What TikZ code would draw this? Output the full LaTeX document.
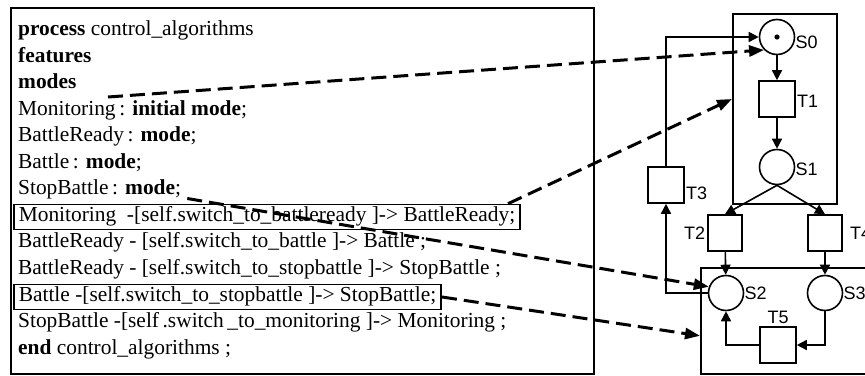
\documentclass[tikz,border=0pt]{standalone}
\usepackage{fontspec}
\setmainfont{Liberation Serif}
\newfontfamily\labfont{Liberation Sans}
\usetikzlibrary{arrows.meta}
\begin{document}
\begin{tikzpicture}[x=1pt,y=-1pt,
  code/.style={anchor=base west, inner xsep=0pt, inner ysep=0pt, text height=12pt, text depth=4pt, font=\fontsize{21.4}{25}\selectfont},
  codebox/.style={code, draw, line width=1.6pt, inner xsep=5pt, inner ysep=4.5pt},
  frame/.style={draw, line width=1.6pt, inner sep=0pt},
  place/.style={circle, draw, line width=1.6pt, minimum size=35pt, inner sep=0pt},
  trans/.style={rectangle, draw, line width=1.6pt, minimum width=36pt, minimum height=36pt, inner sep=0pt},
  lab/.style={font=\labfont\fontsize{18}{18}\selectfont, inner sep=0pt},
  arc/.style={line width=1.6pt, -{Triangle[length=10pt,width=10pt]}},
  link/.style={line width=3pt, dash pattern=on 15pt off 7pt, -{Triangle[length=15pt,width=11pt]}}]
\useasboundingbox[fill=white] (0,0) rectangle (865,375);

% ---- left listing ----
\node[frame, minimum width=583pt, minimum height=366pt, anchor=north west] (lst) at (10,7) {};
\node[code] (l1)  at (18,35.5)  {\textbf{process} control\_algorithms};
\node[code] (l2)  at (18,62)    {\textbf{features}};
\node[code] (l3)  at (18,88.5)  {\textbf{modes}};
\node[code] (l4)  at (18,115)   {Monitoring\,: \textbf{initial mode};};
\node[code] (l5)  at (18,141.5) {BattleReady\,: \textbf{mode};};
\node[code] (l6)  at (18,168)   {Battle\,: \textbf{mode};};
\node[code] (l7)  at (18,194.5) {StopBattle\,: \textbf{mode};};
\node[codebox] (l8)  at (13,221) {Monitoring~~-[self.switch\_to\_battleready ]-> BattleReady;};
\node[code] (l9)  at (18,247.5) {BattleReady - [self.switch\_to\_battle ]-> Battle ;};
\node[code] (l10) at (18,274)   {BattleReady - [self.switch\_to\_stopbattle ]-> StopBattle ;};
\node[codebox] (l11) at (13,301) {Battle -[self.switch\_to\_stopbattle ]-> StopBattle;};
\node[code] (l12) at (18,327.5) {StopBattle -[self\,.switch\,\_to\_monitoring ]-> Monitoring ;};
\node[code] (l13) at (18,354)   {\textbf{end} control\_algorithms ;};

% ---- Petri net ----
\node[frame, minimum width=104pt, minimum height=190pt, anchor=north west] (ub) at (732,13) {};
\node[frame, minimum width=200pt, minimum height=106pt, anchor=north west] (lb) at (700,267) {};

\node[place] (S0) at (777,37) {};
\fill (S0.center) circle (2.6pt);
\node[trans] (T1) at (777,99) {};
\node[place] (S1) at (777,167) {};
\node[trans] (T3) at (666,185) {};
\node[trans, minimum width=34pt] (T2) at (725,233) {};
\node[trans, minimum width=34pt] (T4) at (825,233) {};
\node[place] (S2) at (726,293) {};
\node[place] (S3) at (825,293) {};
\node[trans] (T5) at (778,345) {};

\node[lab, anchor=west, yshift=-5pt] at (S0.east) {S0};
\node[lab, anchor=west, yshift=-2.5pt, xshift=1pt] at (T1.east) {T1};
\node[lab, anchor=west, yshift=-2.5pt] at (S1.east) {S1};
\node[lab, anchor=west, yshift=-8pt, xshift=1pt] at (T3.east) {T3};
\node[lab, anchor=east, xshift=-2pt] at (T2.west) {T2};
\node[lab, anchor=west, xshift=7pt] at (T4.east) {T4};
\node[lab, anchor=west] at (S2.east) {S2};
\node[lab, anchor=west] at (S3.east) {S3};
\node[lab, anchor=south, yshift=2pt] at (T5.north) {T5};

\draw[arc] (S0) -- (T1);
\draw[arc] (T1) -- (S1);
\draw[arc] (S1.south) -- (T2.north);
\draw[arc] (S1.south) -- (T4.north);
\draw[arc] (T2) -- (S2);
\draw[arc] (T4) -- (S3);
\draw[arc] (S3.south) |- (T5.east);
\draw[arc] (T5.west) -| (S2.south);
\draw[arc] (S2.west) -| (T3.south);
\draw[arc] (T3.north) |- (S0.west);

% ---- dashed mapping arrows ----
\coordinate (d1) at (108,97);
\draw[link] (d1) -- (S0.south west);
\draw[link] ([xshift=-13pt]l8.north east) -- (ub.west |- T1.center);
\draw[link] ([xshift=6pt,yshift=-4pt]l7.base east) -- (S2.160);
\draw[link] (l11.east) -- ([yshift=-15pt]lb.west);
\end{tikzpicture}
\end{document}
